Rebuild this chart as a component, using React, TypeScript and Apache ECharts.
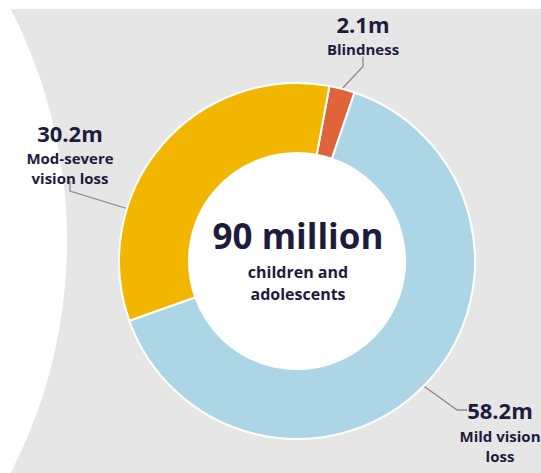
import React, { useEffect, useRef } from "react";
import * as echarts from "echarts";

const categories = ["Blindness", "Mild vision loss", "Mod-severe vision loss"];
const values = [2.1, 58.2, 30.2];
const valueLabels = ["2.1m", "58.2m", "30.2m"];
const nameLabels = ["Blindness", "Mild vision\nloss", "Mod-severe\nvision loss"];
const colors = ["#e0643a", "#acd6e6", "#f2b600"];
const totalLabel = "90 million";
const totalSub = ["children and", "adolescents"];

const DARK = "#1f1b3e";
const FONT = '"Open Sans", "Noto Sans", sans-serif';

export default function App() {
  const ref = useRef<HTMLDivElement>(null);
  useEffect(() => {
    if (!ref.current) return;
    const chart = echarts.init(ref.current, undefined, { renderer: "svg" });
    const cx = 297;
    const cy = 261;
    const rOuter = 178;
    const rInner = 108;
    const len2 = 10;

    const rich = {
      v: { fontSize: 22, fontWeight: 700, lineHeight: 30, color: DARK, fontFamily: FONT },
      n: { fontSize: 15, fontWeight: 700, lineHeight: 20, color: DARK, fontFamily: FONT },
    };

    const mainData = categories.map((name, i) => {
      let label: any = {};
      if (i === 0) {
        label = { formatter: `{v|${valueLabels[i]}}\n{n|${nameLabels[i]}}`, padding: [0, 0, 1, 0] };
      } else if (i === 2) {
        const parts = nameLabels[i].split("\n").map((s) => `{n|${s}}`).join("\n");
        label = { formatter: `{v|${valueLabels[i]}}\n${parts}`, padding: [0, 0, 7, 0] };
      } else {
        label = { formatter: `{v|${valueLabels[i]}}`, padding: [0, 0, 0, 8] };
      }
      return { name, value: values[i], itemStyle: { color: colors[i] }, label };
    });

    const nameData = categories.map((name, i) => ({
      name,
      value: values[i],
      label: i === 1
        ? { show: true, formatter: nameLabels[i].split("\n").map((s) => `{n|${s}}`).join("\n") }
        : { show: false },
    }));

    // leader line: from label bottom, straight down by len2, then to nearest point of the ring's outer edge
    const bottomLeader = (lx: number, bottom: number) => {
      const p0 = [lx, bottom];
      const p1 = [lx, bottom + len2];
      const dx = p1[0] - cx;
      const dy = p1[1] - cy;
      const d = Math.sqrt(dx * dx + dy * dy);
      const p2 = [cx + (dx / d) * (rOuter + 1), cy + (dy / d) * (rOuter + 1)];
      return [p2, p1, p0];
    };

    const option: any = {
      animation: false,
      backgroundColor: "#ffffff",
      graphic: [
        { type: "rect", z: -10, silent: true, shape: { x: 0, y: 9, width: 541, height: 464 }, style: { fill: "#e6e6e6" } },
        { type: "circle", z: -9, silent: true, shape: { cx: -438, cy: 241, r: 505 }, style: { fill: "#ffffff" } },
        { type: "circle", z: -8, silent: true, shape: { cx, cy, r: rInner + 4 }, style: { fill: "#ffffff" } },
        {
          type: "text", z: 100, x: 298, y: 235,
          style: { text: totalLabel, fontSize: 35, fontWeight: 700, fontFamily: FONT, fill: DARK, align: "center", verticalAlign: "middle" },
        },
        {
          type: "text", z: 100, x: 298, y: 272,
          style: { text: totalSub[0], fontSize: 16, fontWeight: 700, fontFamily: FONT, fill: DARK, align: "center", verticalAlign: "middle" },
        },
        {
          type: "text", z: 100, x: 298, y: 294,
          style: { text: totalSub[1], fontSize: 16, fontWeight: 700, fontFamily: FONT, fill: DARK, align: "center", verticalAlign: "middle" },
        },
      ],
      series: [
        {
          type: "pie",
          center: [cx, cy],
          radius: [rInner, rOuter],
          startAngle: 79.5,
          clockwise: true,
          avoidLabelOverlap: false,
          itemStyle: { borderColor: "#ffffff", borderWidth: 2 },
          label: { show: true, position: "outside", rich },
          labelLine: { show: true, length: 10, length2: len2, smooth: false, lineStyle: { color: "#8c8c8c", width: 1.3 } },
          labelLayout: (p: any) => {
            if (p.dataIndex === 0) return { x: 363, y: 9, align: "center", verticalAlign: "top" };
            if (p.dataIndex === 2) {
              const top = 117.5;
              const h = p.labelRect.height;
              return {
                x: 70, y: top, align: "center", verticalAlign: "top",
                labelLinePoints: bottomLeader(70, top + h),
              };
            }
            return { x: 496, y: 410, align: "center", verticalAlign: "middle" };
          },
          emphasis: { disabled: true },
          data: mainData,
        },
        {
          type: "pie",
          center: [cx, cy],
          radius: [rInner, rOuter],
          startAngle: 79.5,
          silent: true,
          avoidLabelOverlap: false,
          itemStyle: { color: "rgba(0,0,0,0)", borderWidth: 0 },
          label: { position: "outside", rich },
          labelLine: { show: false },
          labelLayout: () => ({ x: 500, y: 426, align: "center", verticalAlign: "top" }),
          emphasis: { disabled: true },
          data: nameData,
        },
      ],
    };
    chart.setOption(option);
    return () => chart.dispose();
  }, []);
  return (
    <div
      ref={ref}
      style={{ position: "fixed", left: 0, top: 0, width: 541, height: 473 }}
    />
  );
}
